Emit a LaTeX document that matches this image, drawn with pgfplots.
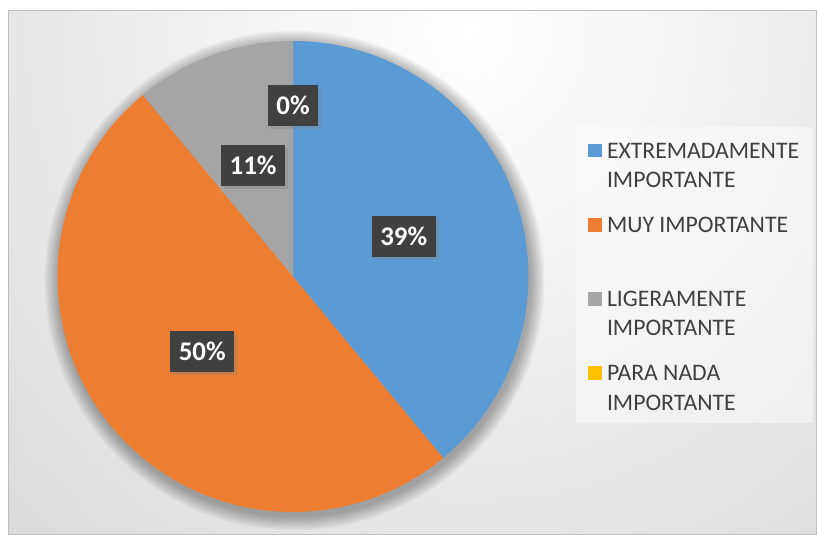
\documentclass[border=0pt]{standalone}
\usepackage{pgfplots}
\pgfplotsset{compat=1.18}
\usepackage{pgfplotstable}
\usepackage{fontspec}
\setmainfont{Carlito}
\usetikzlibrary{shadows}

\definecolor{pblue}{HTML}{5B9BD5}
\definecolor{porange}{HTML}{ED7D31}
\definecolor{pgray}{HTML}{A5A5A5}
\definecolor{pyellow}{HTML}{FFC000}
\definecolor{lblbg}{HTML}{404040}
\definecolor{legtxt}{HTML}{404040}
\definecolor{bgout}{HTML}{C6C6C6}

\pgfplotstableread{
slice pct
0 39
1 50
2 11
3 0
}\piedata

\begin{document}
\begin{tikzpicture}[x=1bp,y=1bp]
\pgfplotstablegetelem{0}{pct}\of\piedata \let\pA\pgfplotsretval
\pgfplotstablegetelem{1}{pct}\of\piedata \let\pB\pgfplotsretval
\pgfplotstablegetelem{2}{pct}\of\piedata \let\pC\pgfplotsretval
\pgfplotstablegetelem{3}{pct}\of\piedata \let\pD\pgfplotsretval
\pgfmathsetmacro\aA{90}
\pgfmathsetmacro\aB{\aA-3.6*\pA}
\pgfmathsetmacro\aC{\aB-3.6*\pB}
\pgfmathsetmacro\aD{\aC-3.6*\pC}
\pgfmathsetmacro\aE{\aD-3.6*\pD}
\def\cx{293}\def\cy{258.5}\def\R{235.5}
\pgfmathsetmacro\mA{(\aA+\aB)/2}
\pgfmathsetmacro\mB{(\aB+\aC)/2}
\pgfmathsetmacro\mC{(\aC+\aD)/2}
\pgfmathsetmacro\mD{(\aD+\aE)/2}
\pgfmathsetmacro\xA{\cx+0.5*\R*cos(\mA)}\pgfmathsetmacro\yA{\cy+0.5*\R*sin(\mA)}
\pgfmathsetmacro\xB{\cx+0.5*\R*cos(\mB)}\pgfmathsetmacro\yB{\cy+0.5*\R*sin(\mB)}
\pgfmathsetmacro\xC{\cx+0.5*\R*cos(\mC)}\pgfmathsetmacro\yC{\cy+0.5*\R*sin(\mC)}
\pgfmathsetmacro\xD{\cx+0.724*\R*cos(\mD)}\pgfmathsetmacro\yD{\cy+0.724*\R*sin(\mD)}

% page and background
\fill[white] (0,0) rectangle (817,535);
\begin{scope}
\clip (8,0.5) rectangle (816.5,524);
\fill[bgout] (8,0) rectangle (817,524);
\shade[inner color=white, outer color=bgout] (470,505) ellipse (1040 and 1100);
\end{scope}
\draw[color=black!25, line width=1bp] (8,0.5) rectangle (816.5,524);

% pie shadow
\foreach \k in {1,...,12} \fill[black, opacity=0.028] (\cx+1.5,\cy-4) circle ({\R+\k*1.2});

% legend box
\fill[white, opacity=0.45] (576,112) rectangle (812.7,408);

\begin{axis}[at={(0,0)}, anchor=south west, width=817bp, height=535bp,
  scale only axis, xmin=0, xmax=817, ymin=0, ymax=535, hide axis, clip=false]
\addplot[fill=pblue, draw=none, domain=\aB:\aA, samples=120, variable=\t]
  ({\cx+\R*cos(\t)},{\cy+\R*sin(\t)}) -- (axis cs:\cx,\cy) -- cycle;
\addplot[fill=porange, draw=none, domain=\aC:\aB, samples=150, variable=\t]
  ({\cx+\R*cos(\t)},{\cy+\R*sin(\t)}) -- (axis cs:\cx,\cy) -- cycle;
\addplot[fill=pgray, draw=none, domain=\aD:\aC, samples=60, variable=\t]
  ({\cx+\R*cos(\t)},{\cy+\R*sin(\t)}) -- (axis cs:\cx,\cy) -- cycle;
\end{axis}

% data labels
\tikzset{lbl/.style={fill=lblbg, text=white, font=\fontsize{27}{30}\selectfont\bfseries,
  inner xsep=8.5bp, inner ysep=11.85bp, text height=17.3bp, text depth=0bp,
  drop shadow={shadow xshift=3bp, shadow yshift=-3bp, opacity=0.35}}}
\node[lbl] at (\xA,\yA) {\pA\%};
\node[lbl] at (\xB,\yB) {\pB\%};
\node[lbl] at (\xC,\yC) {\pC\%};
\node[lbl] at (\xD,\yD) {\pD\%};

% legend
\fill[pblue] (588,377.8) rectangle (601.5,391.3);
\fill[porange] (588,303.3) rectangle (601.5,316.8);
\fill[pgray] (588,229.3) rectangle (601.5,242.8);
\fill[pyellow] (588,155.3) rectangle (601.5,168.8);
\tikzset{leg/.style={anchor=base west, inner sep=0pt, text=legtxt, font=\fontsize{23.8}{29}\selectfont}}
\node[leg] at (606.8,376.6) {EXTREMADAMENTE};
\node[leg] at (606.8,347.2) {IMPORTANTE};
\node[leg] at (606.8,302.2) {MUY IMPORTANTE};
\node[leg] at (606.8,228.2) {LIGERAMENTE};
\node[leg] at (606.8,199.2) {IMPORTANTE};
\node[leg] at (606.8,154.2) {PARA NADA};
\node[leg] at (606.8,124.5) {IMPORTANTE};
\end{tikzpicture}
\end{document}
